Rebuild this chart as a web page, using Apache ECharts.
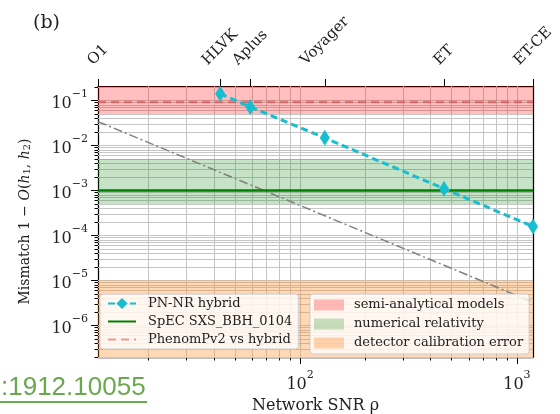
<!DOCTYPE html>
<html>
<head>
<meta charset="utf-8">
<script src="https://cdn.jsdelivr.net/npm/echarts@6/dist/echarts.min.js"></script>
<style>
html, body { margin: 0; padding: 0; background: #fff; }
#chart { width: 560px; height: 414px; }
</style>
</head>
<body>
<div id="chart"></div>
<script>
// Detector networks and their SNR (top axis)
const detectorNames = ['O1', 'HLVK', 'Aplus', 'Voyager', 'ET', 'ET-CE'];
const detectorSNR = [11.7, 42.8, 58.9, 130, 461, 1186];

// PN-NR hybrid mismatch at each detector network
const hybridSNR = [42.8, 58.9, 130, 461, 1186];
const hybridMismatch = [0.141, 0.072, 0.0148, 0.0011, 0.000158];

// Indistinguishability threshold (dash-dot line)
const thresholdSNR = [11.7, 1186];
const thresholdMismatch = [0.034, 0.0000033];

// Constant reference mismatches
const nrMismatch = 0.001;
const phenomMismatch = 0.093;

// Shaded accuracy bands
const bandNames = ['semi-analytical models', 'numerical relativity', 'detector calibration error'];
const bandLow = [0.05, 0.0005, 2e-7];
const bandHigh = [0.21, 0.005, 0.00001];

// Axis ranges and major ticks
const xRange = [11.7, 1186];
const yRange = [2e-7, 0.21];
const xMajorTicks = [100, 1000];
const yMajorTicks = [1e-6, 1e-5, 1e-4, 1e-3, 1e-2, 1e-1];

const serif = 'DejaVu Serif';
const ink = '#222';

// Decade subdivisions (1..9 x 10^k) inside a range
function logSubdivisions(range, includeMajor) {
  const out = [];
  const k0 = Math.floor(Math.log10(range[0]));
  const k1 = Math.ceil(Math.log10(range[1]));
  for (let k = k0; k <= k1; k++) {
    for (let m = includeMajor ? 1 : 2; m <= 9; m++) {
      const v = m * Math.pow(10, k);
      if (v >= range[0] && v <= range[1]) out.push(v);
    }
  }
  return out;
}
const xGrid = logSubdivisions(xRange, true);
const yGrid = logSubdivisions(yRange, true);
const xMinor = logSubdivisions(xRange, false);
const yMinor = logSubdivisions(yRange, false);

const supRich = {
  b: { fontFamily: serif, fontSize: 16, color: ink, verticalAlign: 'bottom', lineHeight: 23 },
  s: { fontFamily: serif, fontSize: 11, color: ink, verticalAlign: 'top', lineHeight: 13 }
};
function pow10Label(v) {
  const e = Math.round(Math.log10(v));
  return '{b|10}{s|' + (e < 0 ? '\u2212' + (-e) : String(e)) + '}';
}

const axisLineStyle = { color: '#000', width: 1.25 };
const tickStyle = { color: '#000', width: 1 };

function axisBase(position, range) {
  return {
    type: 'log', logBase: 10, position: position, min: range[0], max: range[1],
    axisLine: { show: false, onZero: false, lineStyle: axisLineStyle },
    axisTick: { show: false },
    axisLabel: { show: false },
    splitLine: { show: false },
    minorTick: { show: false },
    minorSplitLine: { show: false }
  };
}

const xMain = Object.assign(axisBase('bottom', xRange), {
  axisLine: { show: true, onZero: false, lineStyle: axisLineStyle },
  axisTick: { show: true, inside: false, length: 7, customValues: xMajorTicks, lineStyle: tickStyle },
  axisLabel: { show: true, customValues: xMajorTicks, formatter: pow10Label, rich: supRich, margin: 13 },
  name: 'Network SNR \u03c1',
  nameLocation: 'middle',
  nameGap: 41,
  nameTextStyle: { fontFamily: serif, fontSize: 16, color: ink }
});
const xMinorAxis = Object.assign(axisBase('bottom', xRange), {
  axisTick: { show: true, inside: false, length: 3.5, customValues: xMinor, lineStyle: tickStyle }
});
const xTop = Object.assign(axisBase('top', xRange), {
  axisLine: { show: true, onZero: false, lineStyle: axisLineStyle },
  axisTick: { show: true, inside: false, length: 7, customValues: detectorSNR, lineStyle: tickStyle }
});

const yMain = Object.assign(axisBase('left', yRange), {
  axisLine: { show: true, onZero: false, lineStyle: axisLineStyle },
  axisTick: { show: true, inside: false, length: 7, customValues: yMajorTicks, lineStyle: tickStyle },
  axisLabel: { show: true, customValues: yMajorTicks, formatter: pow10Label, rich: supRich, margin: 10 },
  name: 'Mismatch 1 \u2212 {i|O}({i|h}{sub|1}, {i|h}{sub|2})',
  nameLocation: 'middle',
  nameRotate: 90,
  nameGap: 66,
  nameTextStyle: {
    fontFamily: serif, fontSize: 14, color: ink,
    rich: {
      i: { fontFamily: serif, fontSize: 14, fontStyle: 'italic', color: ink },
      sub: { fontFamily: serif, fontSize: 10, color: ink, verticalAlign: 'bottom', lineHeight: 14 }
    }
  }
});
const yMinorAxis = Object.assign(axisBase('left', yRange), {
  axisTick: { show: true, inside: false, length: 3.5, customValues: yMinor, lineStyle: tickStyle }
});
const yRight = Object.assign(axisBase('right', yRange), {
  axisLine: { show: true, onZero: false, lineStyle: axisLineStyle }
});

const bandColors = ['rgba(255,0,0,0.25)', 'rgba(0,128,0,0.22)', 'rgba(255,127,14,0.3)'];

const series = [];

// Grid lines at every decade subdivision
series.push({
  type: 'line', name: '_grid', data: [], silent: true, z: 1,
  markLine: {
    silent: true, z: 1, precision: 15, symbol: ['none', 'none'], label: { show: false },
    lineStyle: { color: '#c6c6c6', width: 1, type: 'solid' },
    emphasis: { disabled: true },
    animation: false,
    data: xGrid.map(v => ({ xAxis: v })).concat(yGrid.map(v => ({ yAxis: v })))
  }
});

// Shaded bands
bandNames.forEach((name, i) => {
  series.push({
    type: 'line', name: name, data: [], z: 2,
    color: bandColors[i],
    itemStyle: { color: bandColors[i] },
    lineStyle: { width: 0 },
    markArea: {
      silent: true, z: 2, precision: 15,
      itemStyle: { color: bandColors[i] },
      emphasis: { disabled: true },
      data: [[{ yAxis: bandLow[i] }, { yAxis: bandHigh[i] }]]
    }
  });
});

// Threshold line
series.push({
  type: 'line', name: '_threshold', z: 3, silent: true,
  data: thresholdSNR.map((x, i) => [x, thresholdMismatch[i]]),
  showSymbol: false, symbol: 'none',
  lineStyle: { color: '#808080', width: 1.5, type: [9, 3, 2, 3] }
});

// NR reference mismatch
series.push({
  type: 'line', name: 'SpEC SXS_BBH_0104', z: 4,
  data: xRange.map(x => [x, nrMismatch]),
  showSymbol: false, symbol: 'none',
  color: '#008000',
  lineStyle: { color: '#008000', width: 2.5 }
});

// PhenomPv2 vs hybrid
series.push({
  type: 'line', name: 'PhenomPv2 vs hybrid', z: 4,
  data: xRange.map(x => [x, phenomMismatch]),
  showSymbol: false, symbol: 'none',
  color: 'rgba(214,39,40,0.45)',
  lineStyle: { color: 'rgba(214,39,40,0.45)', width: 2.5, type: [8, 5] }
});

// PN-NR hybrid
series.push({
  type: 'line', name: 'PN-NR hybrid', z: 5,
  data: hybridSNR.map((x, i) => [x, hybridMismatch[i]]),
  symbol: 'diamond', symbolSize: [10, 16], showSymbol: true,
  color: '#17becf',
  itemStyle: { color: '#17becf' },
  lineStyle: { color: '#17becf', width: 3, type: [7, 4] }
});

const hiddenMarker = { color: 'rgba(0,0,0,0)', borderColor: 'rgba(0,0,0,0)', borderWidth: 0 };

const legendCommon = {
  orient: 'vertical', selectedMode: false, itemGap: 5,
  backgroundColor: 'rgba(255,255,255,0.8)', borderColor: '#cccccc', borderWidth: 1, borderRadius: 3
};

const option = {
  animation: false,
  backgroundColor: '#fff',
  grid: { left: 98, top: 86, right: 27, bottom: 57, containLabel: false, outerBoundsMode: 'none' },
  xAxis: [xMain, xMinorAxis, xTop],
  yAxis: [yMain, yMinorAxis, yRight],
  legend: [
    Object.assign({}, legendCommon, {
      data: [
        { name: 'PN-NR hybrid' },
        { name: 'SpEC SXS_BBH_0104', itemStyle: hiddenMarker },
        { name: 'PhenomPv2 vs hybrid', itemStyle: hiddenMarker }
      ],
      left: 100, top: 294, itemWidth: 28, itemHeight: 14,
      padding: [3, 6, 3, 7],
      textStyle: { fontFamily: serif, fontSize: 13, color: ink, padding: [0, 0, 0, 7] }
    }),
    Object.assign({}, legendCommon, {
      data: bandNames,
      icon: 'rect',
      left: 310, top: 294, itemWidth: 30, itemHeight: 11,
      padding: [4, 6, 4, 4],
      textStyle: { fontFamily: serif, fontSize: 13, color: ink, padding: [0, 0, 0, 5], lineHeight: 14 }
    })
  ],
  series: series
};

const chart = echarts.init(document.getElementById('chart'), null, { renderer: 'canvas' });
chart.setOption(option);

// Rotated detector names above the top axis
const measureCtx = document.createElement('canvas').getContext('2d');
const topFontSize = 15;
const topFont = topFontSize + 'px "' + serif + '"';
measureCtx.font = topFont;
const gridTop = 86;
const labelBottom = gridTop - 18;
const graphics = detectorNames.map((name, i) => {
  const px = chart.convertToPixel({ xAxisIndex: 0 }, detectorSNR[i]);
  const len = measureCtx.measureText(name).width;
  const cy = labelBottom - (len + topFontSize) / (2 * Math.SQRT2);
  return {
    type: 'text', x: px, y: cy, rotation: Math.PI / 4, silent: true,
    style: {
      text: name, font: topFont, fill: ink,
      align: 'center', verticalAlign: 'middle',
      textAlign: 'center', textVerticalAlign: 'middle'
    }
  };
});

graphics.push({
  type: 'text', left: 33, top: 14, silent: true,
  style: { text: '(b)', font: '19px "' + serif + '"', fill: ink }
});
graphics.push({
  type: 'text', left: 1, top: 375, silent: true,
  style: { text: ':1912.10055', font: '26px "Liberation Sans"', fill: '#6aa84f' }
});
graphics.push({
  type: 'rect', left: 0, top: 401, silent: true,
  shape: { width: 147, height: 2 },
  style: { fill: '#6aa84f' }
});

chart.setOption({ graphic: graphics });
</script>
</body>
</html>
